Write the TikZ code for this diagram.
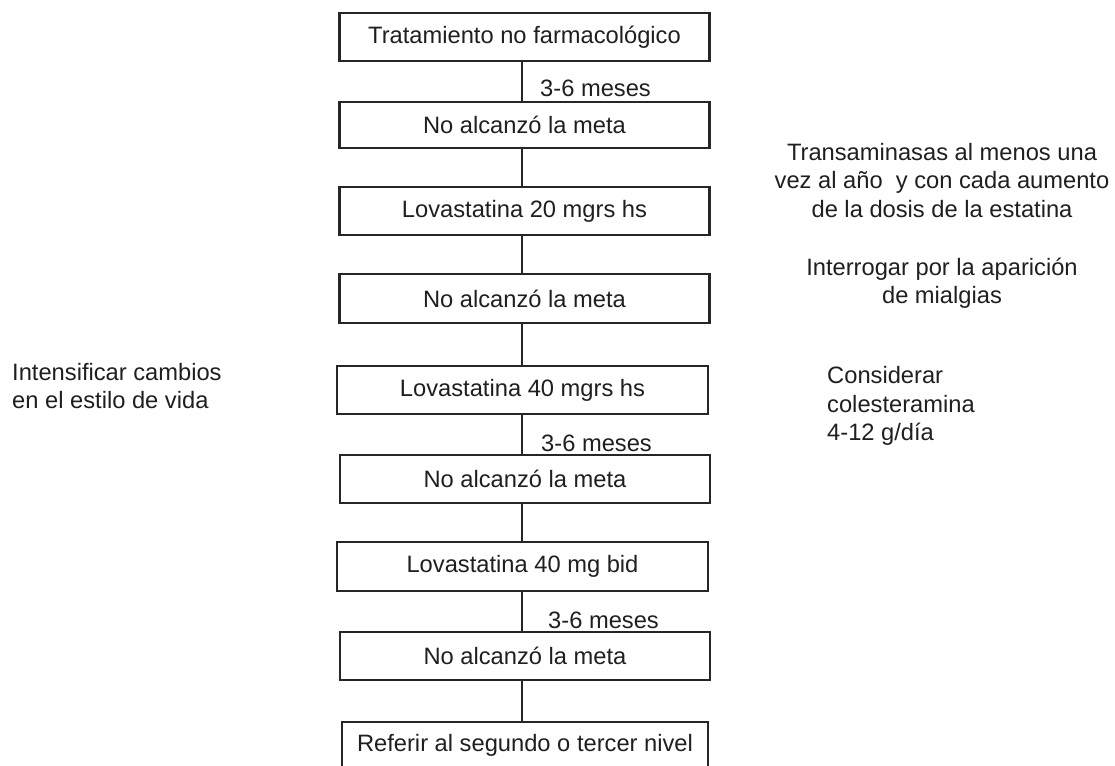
\documentclass[tikz,border=0pt]{standalone}
\usepackage{fontspec}
\setmainfont{Liberation Sans}
\begin{document}
\begin{tikzpicture}[x=1pt,y=-1pt,
  txt/.style={font=\fontsize{23.7}{28.5}\selectfont, text=black!88},
  box/.style={txt, draw=black!85, line width=2.2pt, minimum width=370pt, minimum height=48pt, inner sep=0pt},
  lbl/.style={txt, inner sep=0pt, anchor=base west},
  note/.style={txt, inner sep=0pt, anchor=base},
  link/.style={draw=black!85, line width=2.2pt}]
\useasboundingbox (0,0) rectangle (1115,765);
\node[box] (b1) at (524.5,37) {Tratamiento no farmacológico};
\node[box, minimum height=46pt] (b2) at (524.5,125) {No alcanzó la meta};
\node[box] (b3) at (524.5,211) {Lovastatina 20 mgrs hs};
\node[box, minimum height=49pt] (b4) at (524.5,298.5) {No alcanzó la meta};
\node[box, minimum width=371pt] (b5) at (522.5,390) {Lovastatina 40 mgrs hs};
\node[box] (b6) at (525,479) {No alcanzó la meta};
\node[box, minimum width=371pt, minimum height=49pt] (b7) at (522.5,566.5) {Lovastatina 40 mg bid};
\node[box] (b8) at (525,656) {No alcanzó la meta};
\node[box, minimum width=366pt, minimum height=46pt] (b9) at (525,745) {Referir al segundo o tercer nivel};
\coordinate (sp) at (522,0);
\foreach \a/\b in {b1/b2,b2/b3,b3/b4,b4/b5,b5/b6,b6/b7,b7/b8,b8/b9}
  \draw[link] (\a.south -| sp) -- (\b.north -| sp);
\node[lbl] (m1) at (540,97) {3-6 meses};
\node[lbl] (m2) at (541,451) {3-6 meses};
\node[lbl] (m3) at (548,628) {3-6 meses};
\node[note] (t1) at (942,160) {Transaminasas al menos una};
\node[note] (t2) at (942,188) {vez al año\ \ y con cada aumento};
\node[note] (t3) at (942,217) {de la dosis de la estatina};
\node[note] (i1) at (942,275) {Interrogar por la aparición};
\node[note] (i2) at (942,303) {de mialgias};
\node[lbl] (l1) at (12,380) {Intensificar cambios};
\node[lbl] (l2) at (12,408) {en el estilo de vida};
\node[lbl] (c1) at (827,383) {Considerar};
\node[lbl] (c2) at (827,412) {colesteramina};
\node[lbl] (c3) at (827,440) {4-12 g/día};
\end{tikzpicture}
\end{document}
